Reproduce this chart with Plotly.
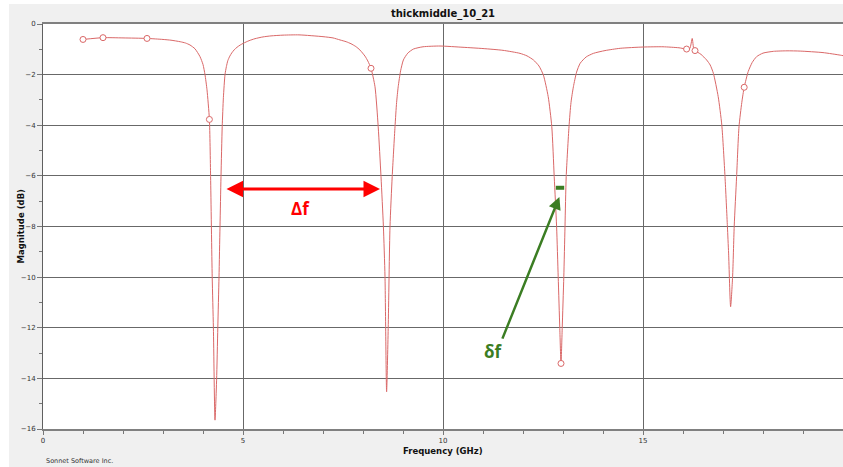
import plotly.graph_objects as go

# ---- data ----
freq_ghz = [1.0, 1.5, 2.0, 2.6, 3.0, 3.2, 3.43, 3.56, 3.675, 3.8, 3.925, 4.0, 4.05, 4.1, 4.16,
            4.19, 4.23, 4.26, 4.3, 4.34, 4.37, 4.40, 4.425, 4.45, 4.48, 4.51, 4.55, 4.585, 4.62,
            4.67, 4.72, 4.78, 4.85, 4.93, 5.01, 5.15, 5.3, 5.5, 5.7, 6.0, 6.4, 7.0, 7.25, 7.425,
            7.58, 7.7, 7.82, 7.925, 8.05, 8.12, 8.2, 8.3, 8.38,
            8.45, 8.51, 8.55, 8.59, 8.63, 8.675, 8.73, 8.8, 8.84, 8.88, 8.94, 9.01, 9.12, 9.26,
            9.5, 9.925, 10.5,
            11.0, 11.5, 11.925, 12.1, 12.26, 12.4, 12.51, 12.63, 12.72, 12.78, 12.84, 12.88, 12.92,
            12.95, 12.98, 13.02, 13.05, 13.08, 13.15, 13.2, 13.26, 13.34, 13.43, 13.58, 13.76,
            14.05, 14.43, 15.0,
            15.5, 15.9, 16.09, 16.17, 16.23, 16.27, 16.3, 16.45, 16.59, 16.68, 16.76, 16.88, 16.97,
            17.05, 17.11, 17.14, 17.19, 17.24, 17.28, 17.34, 17.4, 17.47, 17.53, 17.63, 17.73,
            17.84, 18.0, 18.26, 18.6, 18.93, 19.5, 19.93, 20.0]
magnitude_db = [-0.61, -0.54, -0.55, -0.57, -0.61, -0.64, -0.70, -0.75, -0.83, -0.98, -1.29, -1.6,
                -2.0, -2.6, -3.77, -6.03, -9.99, -12.0, -15.65, -14.07, -12.0, -10.0, -8.0,
                -6.03, -4.06, -2.9, -2.0, -1.68, -1.45, -1.27, -1.14, -1.02, -0.92, -0.83, -0.76,
                -0.66, -0.58, -0.51, -0.47, -0.44, -0.43, -0.5, -0.55, -0.63, -0.7, -0.78, -0.89,
                -1.03, -1.27, -1.46, -1.75, -2.48, -4.06, -6.03, -8.0, -9.99,
                -14.53, -12.03, -8.0, -6.03, -4.06, -3.1, -2.48, -1.85, -1.42, -1.15, -0.99,
                -0.9, -0.87, -0.92,
                -0.97, -1.04, -1.16, -1.26, -1.42, -1.66, -2.02, -2.87, -4.06, -6.03, -8.0, -9.99,
                -12.03, -13.41, -12.03, -9.99, -8.0, -6.03, -4.06, -3.1, -2.48, -1.9, -1.55, -1.3,
                -1.16, -1.05, -0.96, -0.91,
                -0.9, -0.94, -0.99, -0.97, -0.57, -1.0, -1.05, -1.2, -1.42, -1.62, -1.95, -2.87,
                -3.99, -6.03, -8.0, -9.05, -11.17, -9.99, -8.0, -6.03, -4.06, -3.1, -2.5, -1.88,
                -1.52, -1.29, -1.15, -1.08, -1.06, -1.07, -1.13, -1.23, -1.25]

sample_freq = [1.0, 1.5, 2.6, 4.16, 8.2, 12.95, 16.09, 16.3, 17.53]
sample_mag = [-0.61, -0.54, -0.57, -3.77, -1.75, -13.41, -0.99, -1.05, -2.5]

big_delta_x = [4.55, 8.425]      # Δf arrow ends
big_delta_y = -6.52
small_delta_x = [12.82, 13.03]   # δf bar
small_delta_y = -6.47
small_arrow_tail = (11.47, -12.49)
small_arrow_tip = (12.91, -6.83)

title_text = "thickmiddle_10_21"
x_title = "Frequency (GHz)"
y_title = "Magnitude (dB)"
credit = "Sonnet Software Inc."

RED_CURVE = "#da6868"
GREEN = "#3b7d23"
GRID = "#686868"
BG = "#f0f0f0"

fig = go.Figure()
fig.add_trace(go.Scatter(x=freq_ghz, y=magnitude_db, mode="lines",
                         line=dict(color=RED_CURVE, width=1, shape="spline", smoothing=0.6),
                         hoverinfo="skip", showlegend=False))
fig.add_trace(go.Scatter(x=sample_freq, y=sample_mag, mode="markers",
                         marker=dict(symbol="circle", size=6, color="white",
                                     line=dict(color=RED_CURVE, width=1)),
                         showlegend=False))

# annotations
fig.add_annotation(x=big_delta_x[1], y=big_delta_y, ax=big_delta_x[0], ay=big_delta_y,
                   xref="x", yref="y", axref="x", ayref="y", text="", showarrow=True,
                   arrowhead=2, startarrowhead=2, arrowside="end+start",
                   arrowwidth=3, arrowsize=1.1, startarrowsize=1.1, arrowcolor="#ff0000",
                   standoff=0, startstandoff=0)
fig.add_annotation(x=sum(big_delta_x) / 2 - 0.06, y=-7.27, xref="x", yref="y",
                   text="<b>Δf</b>", showarrow=False,
                   font=dict(family="Open Sans", size=17, color="#ff0000"))
fig.add_annotation(x=small_arrow_tip[0], y=small_arrow_tip[1],
                   ax=small_arrow_tail[0], ay=small_arrow_tail[1],
                   xref="x", yref="y", axref="x", ayref="y", text="", showarrow=True,
                   arrowhead=2, arrowwidth=2.5, arrowsize=1, arrowcolor=GREEN, standoff=0)
fig.add_annotation(x=11.25, y=-12.95, xref="x", yref="y", text="<b>δf</b>",
                   showarrow=False, font=dict(family="Open Sans", size=17, color=GREEN))
fig.add_shape(type="line", xref="x", yref="y", x0=small_delta_x[0], x1=small_delta_x[1],
              y0=small_delta_y, y1=small_delta_y, line=dict(color=GREEN, width=4))

# axis titles / credit
fig.add_annotation(x=0.5, y=(429 - 450.5) / 405, xref="paper", yref="paper",
                   xanchor="center", yanchor="middle", text="<b>" + x_title + "</b>",
                   showarrow=False, font=dict(family="DejaVu Sans", size=8.5, color="#111"))
fig.add_annotation(x=(20 - 43) / 800, y=0.5, xref="paper", yref="paper",
                   xanchor="center", yanchor="middle", text="<b>" + y_title + "</b>",
                   textangle=-90, showarrow=False, font=dict(family="DejaVu Sans", size=8.5, color="#111"))
fig.add_annotation(x=(44 - 43) / 800, y=(429 - 461) / 405, xref="paper", yref="paper", text=credit,
                   xanchor="left", yanchor="middle", showarrow=False,
                   font=dict(family="DejaVu Sans", size=6.5, color="#333"))

# white border strips
fig.add_shape(type="rect", xref="paper", yref="paper", x0=-43 / 800, x1=1.01,
              y0=(429 - 4) / 405, y1=429 / 405 + 0.01, fillcolor="white", line_width=0, layer="below")
fig.add_shape(type="rect", xref="paper", yref="paper", x0=-43 / 800 - 0.01, x1=(9 - 43) / 800,
              y0=-0.2, y1=1.2, fillcolor="white", line_width=0, layer="below")

axis_font = dict(family="DejaVu Sans", size=7, color="#333")
fig.update_xaxes(range=[0, 20], dtick=5, tick0=0, showgrid=True, gridcolor=GRID, gridwidth=1,
                 ticks="outside", ticklen=4, tickcolor="#777", tickfont=axis_font, automargin=False,
                 showline=True, linecolor="#808080", linewidth=1.5, mirror=True, zeroline=False,
                 minor=dict(dtick=1, ticks="outside", ticklen=3, tickcolor="#777", showgrid=False))
fig.update_yaxes(range=[-16, 0], dtick=2, tick0=0, showgrid=True, gridcolor=GRID, gridwidth=1,
                 ticks="outside", ticklen=5, tickcolor="#777", tickfont=axis_font, automargin=False,
                 showline=True, linecolor="#606060", linewidth=1, mirror=True, zeroline=False,
                 minor=dict(dtick=1, ticks="outside", ticklen=3, tickcolor="#777", showgrid=False))

fig.update_layout(width=843, height=467, autosize=False,
                  margin=dict(l=43, r=0, t=24, b=38, autoexpand=False),
                  paper_bgcolor=BG, plot_bgcolor="white",
                  title=dict(text="<b>" + title_text + "</b>", x=(443) / 843, xanchor="center",
                             y=1 - 13 / 467, yanchor="middle",
                             font=dict(family="DejaVu Sans", size=10, color="#111")),
                  showlegend=False)

fig.write_html("out.html", config={"displayModeBar": False},
               post_script="document.body.style.margin='0';document.body.style.overflow='hidden';")
